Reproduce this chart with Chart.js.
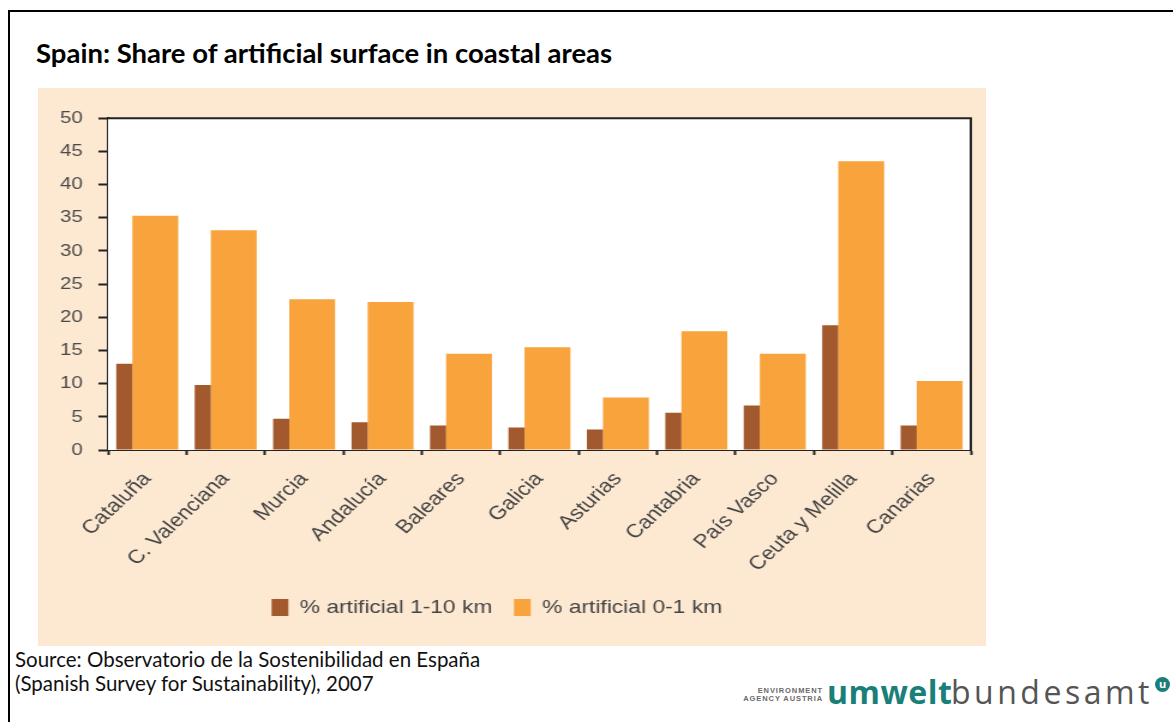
<!DOCTYPE html>
<html>
<head>
<meta charset="utf-8">
<script src="https://cdn.jsdelivr.net/npm/chart.js@4.4.1/dist/chart.umd.min.js"></script>
<style>
body { margin:0; width:1173px; height:722px; background:#fff; position:relative; overflow:hidden; font-family:Lato, sans-serif; }
#frame { position:absolute; left:8px; top:10px; width:1300px; height:900px; border-left:2px solid #000; border-top:2px solid #000; }
#title { position:absolute; left:36px; top:39px; font:bold 27.5px/27px Lato, sans-serif; color:#000; white-space:nowrap; }
#panel { position:absolute; left:38px; top:88px; width:948px; height:558px; background:#fde9d2; }
/* the reference chart is a picture stretched sideways, so the canvas is too */
#wrap { position:absolute; left:18px; top:95px; width:800px; height:537px; transform:scaleX(1.2); transform-origin:0 0; }
#source { position:absolute; left:15px; top:647px; font:20.5px/24px Lato, sans-serif; color:#111; white-space:nowrap; }
#logo { position:absolute; left:727px; top:672px; height:40px; white-space:nowrap; }
#agency { position:absolute; left:0; top:15px; width:96px; text-align:right; font:bold 7.5px/8px "Liberation Sans", sans-serif; letter-spacing:0.9px; color:#6a6a6a; }
#umwelt { position:absolute; left:100px; top:0; font:bold 32px/40px "Open Sans", sans-serif; color:#1b7f79; letter-spacing:0.5px; }
#bundes { position:absolute; left:224px; top:0; font:32px/40px "Open Sans", sans-serif; color:#555; letter-spacing:3.5px; }
#dot { position:absolute; left:428px; top:5px; width:15px; height:15px; border-radius:50%; background:#1b7f79; color:#fff; font:bold 11px/14px "Open Sans", sans-serif; text-align:center; }
</style>
</head>
<body>
<div id="frame"></div>
<div id="title">Spain: Share of artificial surface in coastal areas</div>
<div id="panel"></div>
<div id="wrap"><canvas id="myChart"></canvas></div>
<div id="source">Source: Observatorio de la Sostenibilidad en España<br>(Spanish Survey for Sustainability), 2007</div>
<div id="logo">
  <div id="agency">ENVIRONMENT<br>AGENCY AUSTRIA</div>
  <div id="umwelt">umwelt</div>
  <div id="bundes">bundesamt</div>
  <div id="dot">u</div>
</div>
<script>
// data
var regions = ['Cataluña', 'C. Valenciana', 'Murcia', 'Andalucía', 'Baleares', 'Galicia',
    'Asturias', 'Cantabria', 'País Vasco', 'Ceuta y Melilla', 'Canarias'];
var share1to10 = [13.0, 9.8, 4.7, 4.2, 3.7, 3.4, 3.1, 5.6, 6.7, 18.8, 3.7];
var share0to1 = [35.3, 33.1, 22.7, 22.3, 14.5, 15.5, 7.9, 17.9, 14.5, 43.5, 10.4];
var seriesNames = ['% artificial 1-10 km', '% artificial 0-1 km'];
var yTicks = [0, 5, 10, 15, 20, 25, 30, 35, 40, 45, 50];

var darkShare = 0.26; // narrow dark bar, wide orange bar, side by side

// white plot area with black frame
var plotFrame = {
    id: 'plotFrame',
    beforeDatasetsDraw: function(chart) {
        var a = chart.chartArea, c = chart.ctx;
        c.save();
        c.fillStyle = '#fff';
        c.fillRect(a.left, a.top, a.right - a.left, a.bottom - a.top);
        c.restore();
    },
    afterDatasetsDraw: function(chart) {
        var a = chart.chartArea, c = chart.ctx;
        c.save();
        c.strokeStyle = '#222';
        c.lineWidth = 2;
        c.beginPath();
        c.moveTo(a.left, a.top);
        c.lineTo(a.right, a.top);
        c.lineTo(a.right, a.bottom);
        c.stroke();
        c.restore();
    }
};

// resize the two bars of each group so they keep the group width but are unequal
var barSplit = {
    id: 'barSplit',
    beforeDatasetsDraw: function(chart) {
        var dark = chart.getDatasetMeta(0).data;
        var light = chart.getDatasetMeta(1).data;
        dark.forEach(function(d, i) {
            var o = light[i];
            var left = d.x - d.width / 2;
            var right = o.x + o.width / 2;
            var dw = (right - left) * darkShare;
            d.width = dw;
            d.x = left + dw / 2;
            o.width = right - left - dw;
            o.x = left + dw + o.width / 2;
        });
    }
};

var ctx = document.getElementById('myChart').getContext('2d');
var myChart = new Chart(ctx, {
    type: 'bar',
    data: {
        labels: regions,
        datasets: [{
            label: seriesNames[0],
            data: share1to10,
            backgroundColor: '#a3592e',
            categoryPercentage: 0.79,
            barPercentage: 1
        }, {
            label: seriesNames[1],
            data: share0to1,
            backgroundColor: '#f8a33b',
            categoryPercentage: 0.79,
            barPercentage: 1
        }]
    },
    options: {
        responsive: true,
        maintainAspectRatio: false,
        animation: false,
        layout: { padding: { left: 4, right: 6, top: 18, bottom: 5 } },
        plugins: {
            tooltip: { enabled: false },
            legend: {
                position: 'bottom',
                labels: {
                    boxWidth: 14,
                    boxHeight: 17,
                    padding: 18,
                    color: '#444',
                    font: { family: 'Liberation Sans', size: 19 }
                }
            }
        },
        scales: {
            x: {
                grid: { drawOnChartArea: false, tickLength: 5, tickWidth: 2, tickColor: '#222' },
                border: { color: '#222', width: 2 },
                ticks: {
                    minRotation: 48,
                    maxRotation: 48,
                    padding: 13,
                    color: '#444',
                    font: { family: 'Liberation Sans', size: 19 }
                },
                afterFit: function(axis) { axis.height = 130; }
            },
            y: {
                min: 0,
                max: 50,
                afterBuildTicks: function(axis) {
                    axis.ticks = yTicks.map(function(v) { return { value: v }; });
                },
                grid: { drawOnChartArea: false, tickLength: 8, tickWidth: 2, tickColor: '#222' },
                border: { color: '#222', width: 2 },
                ticks: {
                    padding: 13,
                    color: '#4a4a4a',
                    font: { family: 'Liberation Sans', size: 17 }
                },
                afterFit: function(axis) { axis.width = 71; }
            }
        }
    },
    plugins: [plotFrame, barSplit]
});
</script>
</body>
</html>
